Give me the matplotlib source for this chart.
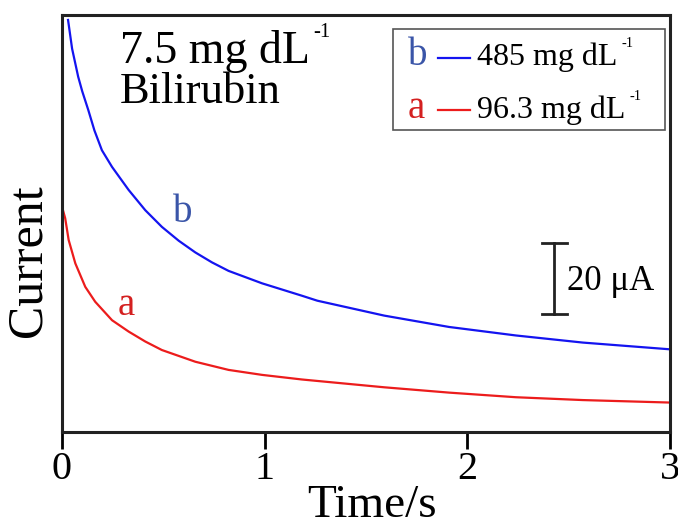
import matplotlib
matplotlib.use('Agg')
import matplotlib.pyplot as plt
from matplotlib.patches import Rectangle
from matplotlib.lines import Line2D

plt.rcParams['font.family'] = 'Liberation Serif'

# curva b (485 mg/dL)
tempo_b = [0.03, 0.05, 0.08, 0.10, 0.13, 0.16, 0.197, 0.247, 0.329, 0.411, 0.493,
           0.576, 0.658, 0.740, 0.822, 0.987, 1.184, 1.26, 1.59, 1.91, 2.24, 2.57, 3.0]
corrente_b = [116.1, 108.0, 100.1, 96.0, 90.7, 85.0, 79.4, 74.7, 68.2, 62.5, 57.8,
              53.9, 50.6, 47.8, 45.4, 41.9, 38.4, 37.0, 32.8, 29.6, 27.2, 25.2, 23.3]

# curva a (96.3 mg/dL)
tempo_a = [0.005, 0.016, 0.033, 0.066, 0.115, 0.164, 0.247, 0.329, 0.411, 0.493,
           0.658, 0.822, 0.987, 1.184, 1.59, 1.91, 2.24, 2.57, 3.0]
corrente_a = [62.5, 60.2, 54.1, 47.5, 40.9, 36.7, 31.5, 28.3, 25.5, 23.1,
              19.8, 17.5, 16.1, 14.8, 12.6, 11.1, 9.8, 9.0, 8.3]

ticks_x = [0, 1, 2, 3]
escala = 20  # uA

fig = plt.figure(figsize=(6.78, 5.21), dpi=100)
ax = fig.add_axes([0.0914, 0.1708, 0.8968, 0.8004])

ax.plot(tempo_b, corrente_b, color='#1414f0', lw=1.6)
ax.plot(tempo_a, corrente_a, color='#ec1c1c', lw=1.6)

ax.set_xlim(0, 3)
ax.set_ylim(0, 117.5)
ax.set_xticks(ticks_x)
ax.set_yticks([])
ax.tick_params(axis='x', direction='out', length=12, width=2, labelsize=29, pad=2)
for s in ax.spines.values():
    s.set_linewidth(2.2)
    s.set_color('#222222')

fig.text(372 / 678, 4 / 521, 'Time/s', fontsize=34, ha='center', va='baseline')
fig.text(0.042, 0.50, 'Current', fontsize=36, rotation=90, ha='center', va='center')

renderer = fig.canvas.get_renderer()


def texto_com_expoente(x, y, txt, tamanho, cor='black'):
    # escreve o texto e um "-1" pequeno logo depois
    t = ax.text(x, y, txt, transform=ax.transAxes, fontsize=tamanho, va='baseline', color=cor)
    bb = t.get_window_extent(renderer).transformed(ax.transAxes.inverted())
    ax.text(bb.x1 + 0.006, y + 0.04 * tamanho / 21, '-1',
            transform=ax.transAxes, fontsize=tamanho * 0.45, va='baseline', color=cor)


# texto no canto
texto_com_expoente(0.095, 0.884, '7.5 mg dL', 33)
ax.text(0.095, 0.789, 'Bilirubin', transform=ax.transAxes, fontsize=32, va='baseline')

# legenda manual
ax.add_patch(Rectangle((0.544, 0.724), 0.448, 0.242, transform=ax.transAxes,
                       fill=False, edgecolor='#555555', lw=1.2))
ax.text(0.569, 0.880, 'b', transform=ax.transAxes, color='#3a55a8', fontsize=28, va='baseline')
ax.text(0.569, 0.753, 'a', transform=ax.transAxes, color='#d42020', fontsize=28, va='baseline')
ax.add_line(Line2D([0.618, 0.671], [0.897, 0.897], transform=ax.transAxes, color='#1414f0', lw=1.6))
ax.add_line(Line2D([0.618, 0.671], [0.772, 0.772], transform=ax.transAxes, color='#ec1c1c', lw=1.6))
texto_com_expoente(0.683, 0.880, '485 mg dL', 23)
texto_com_expoente(0.683, 0.753, '96.3 mg dL', 23)

# rotulos das curvas
ax.text(0.548, 59.2, 'b', color='#3a55a8', fontsize=28, va='baseline')
ax.text(0.276, 33.0, 'a', color='#d42020', fontsize=28, va='baseline')

# barra de escala
y0 = 33.2
ax.plot([2.43, 2.43], [y0, y0 + escala], color='#222222', lw=2)
ax.plot([2.37, 2.49], [y0, y0], color='#222222', lw=2)
ax.plot([2.37, 2.49], [y0 + escala, y0 + escala], color='#222222', lw=2)
ax.text(2.49, 40.0, '20 \u03bcA', fontsize=25, va='baseline')

plt.savefig('out.png', dpi=100)
